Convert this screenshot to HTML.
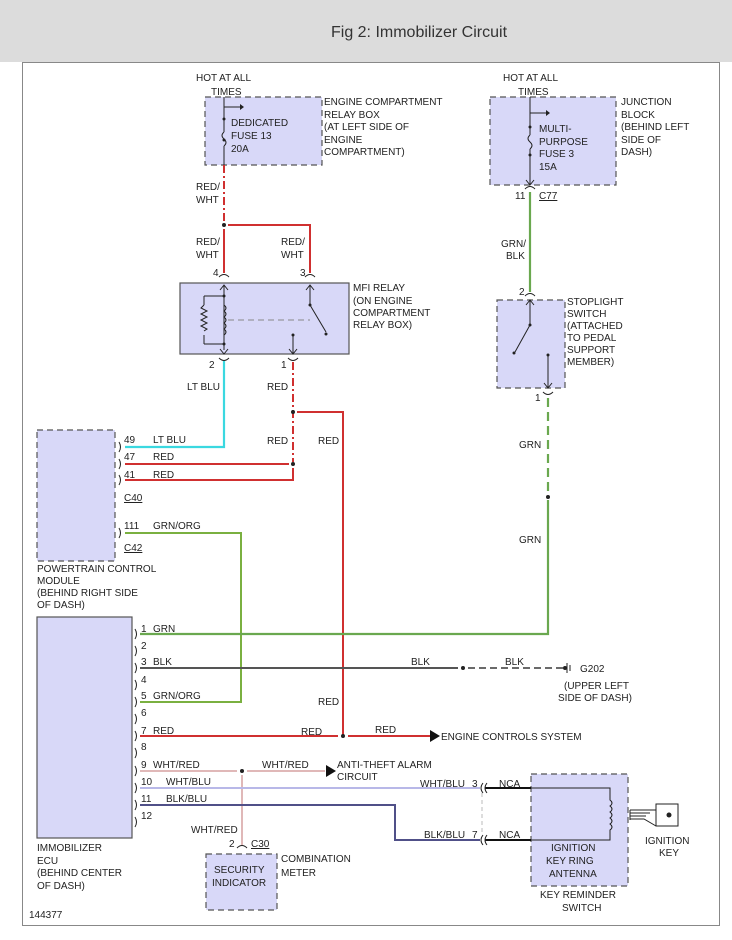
<!DOCTYPE html>
<html><head><meta charset="utf-8"><style>
html,body{margin:0;padding:0;background:#fff;}
svg{display:block;font-family:"Liberation Sans",sans-serif;}
text{font-size:10px;fill:#222;}
</style></head><body>
<svg width="732" height="940" viewBox="0 0 732 940" xmlns="http://www.w3.org/2000/svg">
<rect x="0" y="0" width="732" height="62" fill="#dcdcdc"/>
<text x="419" y="37" text-anchor="middle" style="font-size:16px;fill:#333">Fig 2: Immobilizer Circuit</text>
<rect x="22.5" y="62.5" width="697" height="863" fill="#fff" stroke="#888" stroke-width="1"/>

<g fill="#d8d8f8" stroke="#555" stroke-width="1.2" stroke-dasharray="6,4">
<rect x="205" y="97" width="117" height="68"/>
<rect x="490" y="97" width="126" height="88"/>
<rect x="497" y="300" width="68" height="88"/>
<rect x="37" y="430" width="78" height="131"/>
<rect x="206" y="854" width="71" height="56"/>
<rect x="531" y="774" width="97" height="112"/>
</g>
<rect x="180" y="283" width="169" height="71" fill="#d8d8f8" stroke="#555" stroke-width="1.2"/>
<rect x="37" y="617" width="95" height="221" fill="#d8d8f8" stroke="#555" stroke-width="1.2"/>

<!-- texts top -->
<text x="196" y="81">HOT AT ALL</text><text x="211" y="95">TIMES</text>
<text x="324" y="105">ENGINE COMPARTMENT</text><text x="324" y="118">RELAY BOX</text>
<text x="324" y="130">(AT LEFT SIDE OF</text><text x="324" y="143">ENGINE</text><text x="324" y="155">COMPARTMENT)</text>
<text x="231" y="126">DEDICATED</text><text x="231" y="139">FUSE 13</text><text x="231" y="152">20A</text>
<text x="503" y="81">HOT AT ALL</text><text x="518" y="95">TIMES</text>
<text x="621" y="105">JUNCTION</text><text x="621" y="118">BLOCK</text><text x="621" y="130">(BEHIND LEFT</text><text x="621" y="143">SIDE OF</text><text x="621" y="155">DASH)</text>
<text x="539" y="132">MULTI-</text><text x="539" y="145">PURPOSE</text><text x="539" y="157">FUSE 3</text><text x="539" y="170">15A</text>

<!-- fuse internals -->
<g stroke="#222" stroke-width="1" fill="none">
<path d="M224 97 V132 M224 146 V165 M224 132 q-4 3.5 0 7 q4 3.5 0 7"/>
<path d="M224 107 H240"/>
<path d="M530 97 V135 M530 149 V184 M530 135 q-4 3.5 0 7 q4 3.5 0 7"/>
<path d="M530 113 H546"/>
<path d="M526 180 L530 185 L534 180"/>
</g>
<path d="M240 104 L244 107 L240 110Z M546 110 L550 113 L546 116Z" fill="#222"/>
<circle cx="224" cy="119" r="1.5" fill="#222"/><circle cx="224" cy="140" r="1.5" fill="#222"/>
<circle cx="530" cy="127" r="1.5" fill="#222"/><circle cx="530" cy="155" r="1.5" fill="#222"/>

<!-- connectors (arcs) -->
<g stroke="#222" stroke-width="1" fill="none">
<path d="M525 189 q5 -5 10 0"/>
<path d="M219 277 q5 -5 10 0 M305 277 q5 -5 10 0"/>
<path d="M219 358 q5 5 10 0 M288 358 q5 5 10 0"/>
<path d="M525 296 q5 -5 10 0 M543 392 q5 5 10 0"/>
<path d="M237 848 q5 -5 10 0"/>
</g>
<text x="515" y="199">11</text><text x="539" y="199" text-decoration="underline">C77</text>
<text x="213" y="276">4</text><text x="300" y="276">3</text>
<text x="209" y="368">2</text><text x="281" y="368">1</text>
<text x="519" y="295">2</text><text x="535" y="401">1</text>
<text x="229" y="847">2</text><text x="251" y="847" text-decoration="underline">C30</text>

<!-- red/wht top wires -->
<path d="M224 165 V222" stroke="#d03030" stroke-width="2" stroke-dasharray="8,3,2,3"/>
<circle cx="224" cy="225" r="2" fill="#222"/>
<path d="M228 225 H310 V273 M224 229 V273" stroke="#d03030" stroke-width="2" fill="none"/>
<text x="196" y="190">RED/</text><text x="196" y="203">WHT</text>
<text x="196" y="245">RED/</text><text x="196" y="258">WHT</text>
<text x="281" y="245">RED/</text><text x="281" y="258">WHT</text>

<!-- relay internals -->
<g stroke="#222" stroke-width="1" fill="none">
<path d="M224 285 V350 M204 296 H224 M204 344 H224 M204 296 V305 M204 335 V344"/>
<path d="M204 305 l-3 3 l6 3 l-6 3 l6 3 l-6 3 l6 3 l-6 3 l6 3 l-3 2"/>
<path d="M224 305 q4 3 0 6 q4 3 0 6 q4 3 0 6 q4 3 0 6 q4 3 0 6"/>
<path d="M310 285 V305 L326 332"/>
<path d="M293 335 V354"/>
<path d="M220 290 L224 285 L228 290 M306 290 L310 285 L314 290 M220 349 L224 354 L228 349 M289 349 L293 354 L297 349"/>
</g>
<path d="M228 320 H310" stroke="#888" stroke-width="1" stroke-dasharray="6,4"/>
<circle cx="224" cy="296" r="1.5" fill="#222"/><circle cx="224" cy="344" r="1.5" fill="#222"/>
<circle cx="310" cy="305" r="1.5" fill="#222"/><circle cx="326" cy="334" r="1.5" fill="#222"/><circle cx="293" cy="335" r="1.5" fill="#222"/>
<text x="353" y="291">MFI RELAY</text><text x="353" y="304">(ON ENGINE</text><text x="353" y="316">COMPARTMENT</text><text x="353" y="328">RELAY BOX)</text>

<!-- stoplight switch -->
<g stroke="#222" stroke-width="1" fill="none">
<path d="M530 300 V325 L515 352"/>
<path d="M548 355 V388 M544 383 L548 388 L552 383 M526 305 L530 300 L534 305"/>
</g>
<circle cx="530" cy="325" r="1.5" fill="#222"/><circle cx="514" cy="353" r="1.5" fill="#222"/><circle cx="548" cy="355" r="1.5" fill="#222"/>
<text x="567" y="305">STOPLIGHT</text><text x="567" y="317">SWITCH</text><text x="567" y="329">(ATTACHED</text><text x="567" y="341">TO PEDAL</text><text x="567" y="353">SUPPORT</text><text x="567" y="365">MEMBER)</text>

<!-- green/blk -->
<path d="M530 192 V292" stroke="#6aa84f" stroke-width="2.2"/>
<text x="501" y="247">GRN/</text><text x="506" y="259">BLK</text>

<!-- cyan -->
<path d="M224 361 V447 H125" stroke="#3ad8e0" stroke-width="2.2" fill="none"/>
<text x="187" y="390">LT BLU</text>
<!-- red from relay pin 1 -->
<path d="M293 362 V462" stroke="#d03030" stroke-width="2" stroke-dasharray="8,3,2,3"/>
<circle cx="293" cy="412" r="2" fill="#222"/><circle cx="293" cy="464" r="2" fill="#222"/>
<path d="M297 412 H343 V735" stroke="#d03030" stroke-width="2" fill="none"/>
<path d="M125 464 H289 M125 480 H293 V468" stroke="#d03030" stroke-width="2" fill="none"/>
<text x="267" y="390">RED</text><text x="267" y="444">RED</text><text x="318" y="444">RED</text>

<!-- PCM -->
<g stroke="#222" stroke-width="1" fill="none">
<path d="M119 442 q3 5 0 10 M119 459 q3 5 0 10 M119 475 q3 5 0 10 M119 528 q3 5 0 10"/>
</g>
<text x="124" y="443">49</text><text x="153" y="443">LT BLU</text>
<text x="124" y="460">47</text><text x="153" y="460">RED</text>
<text x="124" y="478">41</text><text x="153" y="478">RED</text>
<text x="124" y="501" text-decoration="underline">C40</text>
<text x="124" y="529">111</text><text x="153" y="529">GRN/ORG</text>
<text x="124" y="551" text-decoration="underline">C42</text>
<text x="37" y="572">POWERTRAIN CONTROL</text><text x="37" y="584">MODULE</text><text x="37" y="596">(BEHIND RIGHT SIDE</text><text x="37" y="608">OF DASH)</text>
<path d="M125 533 H241 V702 H140" stroke="#7ab040" stroke-width="2" fill="none"/>

<!-- green GRN -->
<path d="M548 398 V495" stroke="#6aa84f" stroke-width="2.2" stroke-dasharray="9,5"/>
<circle cx="548" cy="497" r="2" fill="#222"/>
<path d="M548 500 V634 H140" stroke="#6aa84f" stroke-width="2.2" fill="none"/>
<text x="519" y="448">GRN</text><text x="519" y="543">GRN</text>

<!-- ECU pins -->
<g stroke="#222" stroke-width="1" fill="none">
<path d="M135 629 q3 5 0 10 M135 646 q3 5 0 10 M135 663 q3 5 0 10 M135 680 q3 5 0 10 M135 697 q3 5 0 10 M135 714 q3 5 0 10 M135 731 q3 5 0 10 M135 748 q3 5 0 10 M135 766 q3 5 0 10 M135 783 q3 5 0 10 M135 800 q3 5 0 10 M135 817 q3 5 0 10"/>
</g>
<text x="141" y="632">1</text><text x="153" y="632">GRN</text>
<text x="141" y="649">2</text>
<text x="141" y="665">3</text><text x="153" y="665">BLK</text>
<text x="141" y="683">4</text>
<text x="141" y="699">5</text><text x="153" y="699">GRN/ORG</text>
<text x="141" y="716">6</text>
<text x="141" y="734">7</text><text x="153" y="734">RED</text>
<text x="141" y="750">8</text>
<text x="141" y="768">9</text><text x="153" y="768">WHT/RED</text>
<text x="141" y="785">10</text><text x="166" y="785">WHT/BLU</text>
<text x="141" y="802">11</text><text x="166" y="802">BLK/BLU</text>
<text x="141" y="819">12</text>
<text x="37" y="851">IMMOBILIZER</text><text x="37" y="864">ECU</text><text x="37" y="876">(BEHIND CENTER</text><text x="37" y="889">OF DASH)</text>

<!-- BLK -->
<path d="M140 668 H458" stroke="#555" stroke-width="2"/>
<circle cx="463" cy="668" r="2" fill="#222"/>
<path d="M468 668 H563" stroke="#555" stroke-width="1.8" stroke-dasharray="7,4"/>
<circle cx="565" cy="668" r="2" fill="#222"/>
<path d="M567 663 V673 M570 665 V671" stroke="#222" stroke-width="1"/>
<text x="411" y="665">BLK</text><text x="505" y="665">BLK</text>
<text x="580" y="672">G202</text><text x="564" y="689">(UPPER LEFT</text><text x="558" y="701">SIDE OF DASH)</text>

<!-- RED pin7 -->
<path d="M140 736 H338 M348 736 H430" stroke="#d03030" stroke-width="2"/>
<circle cx="343" cy="736" r="2" fill="#222"/>
<path d="M430 730 L440 736 L430 742Z" fill="#111"/>
<text x="318" y="705">RED</text><text x="301" y="735">RED</text><text x="375" y="733">RED</text>
<text x="441" y="740">ENGINE CONTROLS SYSTEM</text>

<!-- WHT/RED -->
<path d="M140 771 H237 M247 771 H325 M242 775 V845" stroke="#e0b8b8" stroke-width="2" fill="none"/>
<circle cx="242" cy="771" r="2" fill="#222"/>
<path d="M326 765 L336 771 L326 777Z" fill="#111"/>
<text x="262" y="768">WHT/RED</text>
<text x="337" y="768">ANTI-THEFT ALARM</text><text x="337" y="780">CIRCUIT</text>
<text x="191" y="833">WHT/RED</text>
<text x="281" y="862">COMBINATION</text><text x="281" y="876">METER</text>
<text x="214" y="873">SECURITY</text><text x="212" y="886">INDICATOR</text>

<!-- WHT/BLU, BLK/BLU -->
<path d="M140 788 H480" stroke="#b8b8e8" stroke-width="2"/>
<path d="M140 805 H395 V840 H480" stroke="#505088" stroke-width="2" fill="none"/>
<path d="M485 788 H531 M485 840 H531" stroke="#111" stroke-width="2"/>
<g stroke="#222" stroke-width="1" fill="none">
<path d="M483 783 q-4 5 0 10 M487 783 q-4 5 0 10 M483 835 q-4 5 0 10 M487 835 q-4 5 0 10"/>
</g>
<path d="M482 793 V835" stroke="#bbb" stroke-width="1" stroke-dasharray="4,3"/>
<text x="420" y="787">WHT/BLU</text><text x="472" y="787">3</text><text x="499" y="787">NCA</text>
<text x="424" y="838">BLK/BLU</text><text x="472" y="838">7</text><text x="499" y="838">NCA</text>

<!-- antenna coil -->
<path d="M531 788 H610 V800 q4 3 0 6 q4 3 0 6 q4 3 0 6 q4 3 0 6 q4 3 0 6 V840 H531" stroke="#222" stroke-width="1" fill="none"/>
<text x="551" y="851">IGNITION</text><text x="546" y="864">KEY RING</text><text x="549" y="877">ANTENNA</text>
<text x="540" y="898">KEY REMINDER</text><text x="562" y="911">SWITCH</text>

<!-- key -->
<g stroke="#222" stroke-width="1" fill="none">
<rect x="656" y="804" width="22" height="22"/>
<path d="M630 810 H656 M630 813 H650 M630 816 H646 M630 819 H644 L656 826 M630 810 V820"/>
</g>
<circle cx="669" cy="815" r="2.5" fill="#222"/>
<text x="645" y="844">IGNITION</text><text x="659" y="856">KEY</text>

<text x="29" y="918">144377</text>
</svg>
</body></html>
